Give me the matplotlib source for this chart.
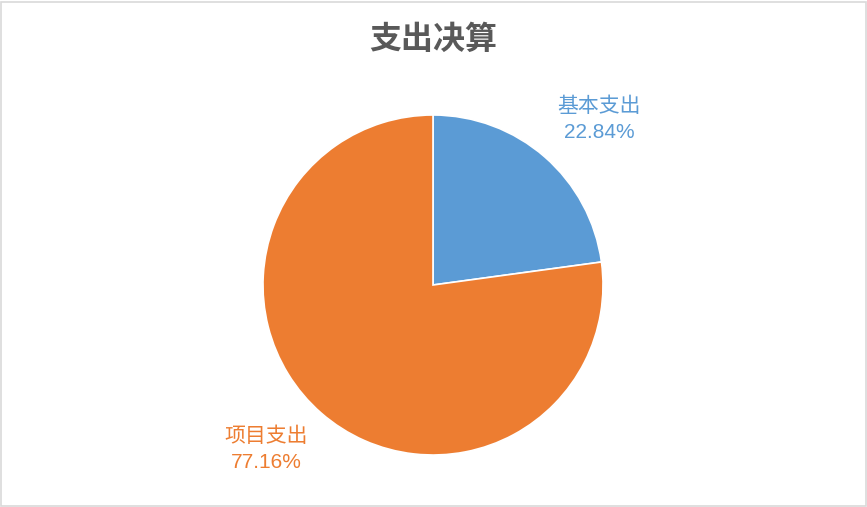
import numpy as np
import matplotlib.pyplot as plt

plt.rcParams['font.family'] = ['Noto Sans CJK SC', 'DejaVu Sans']

# data
categories = ["基本支出", "项目支出"]
shares = [22.84, 77.16]
colors = ["#5B9BD5", "#ED7D31"]
title = "支出决算"

fig = plt.figure(figsize=(8.67, 5.07), dpi=100)
fig.patch.set_facecolor("white")

# light frame around the chart
frame = plt.Rectangle((0.001, 0.001), 0.998, 0.996, transform=fig.transFigure,
                      fill=False, edgecolor="#D9D9D9", linewidth=1.2)
fig.add_artist(frame)

W, H = 867, 507
cx, cy, r = 433, 285, 170
ax = fig.add_axes([(cx - r) / W, 1 - (cy + r) / H, 2 * r / W, 2 * r / H])
ax.pie(shares, colors=colors, startangle=90, counterclock=False,
       wedgeprops=dict(edgecolor="white", linewidth=1.2))
ax.set_aspect("equal")
ax.set_xlim(-1, 1)
ax.set_ylim(-1, 1)

fig.text(cx / W, 1 - 40 / H, title, ha="center", va="center",
         fontsize=23, color="#595959", fontweight="bold")

# data labels
label_pos = [(599, 106), (266, 436)]
for name, val, col, (px, py) in zip(categories, shares, colors, label_pos):
    fig.text(px / W, 1 - py / H, name, ha="center", va="center",
             fontsize=15, color=col)
    fig.text(px / W, 1 - (py + 27) / H, f"{val:.2f}%", ha="center", va="center",
             fontsize=15, color=col, family=['Liberation Sans', 'Noto Sans CJK SC'])

fig.savefig("out.png", dpi=100, facecolor="white")
